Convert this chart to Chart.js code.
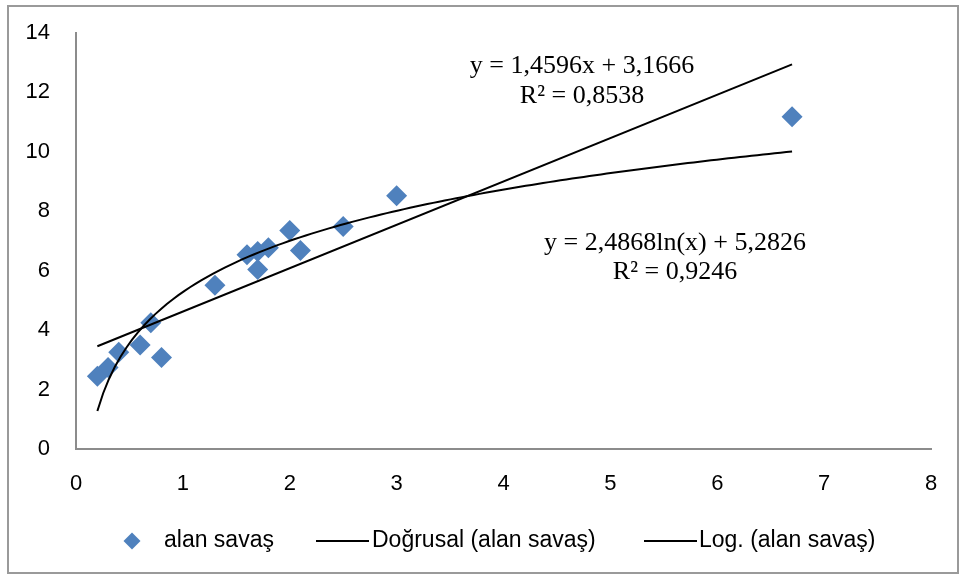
<!DOCTYPE html>
<html>
<head>
<meta charset="utf-8">
<script src="https://cdn.jsdelivr.net/npm/chart.js@4.4.0/dist/chart.umd.min.js"></script>
<style>
  html, body { margin: 0; padding: 0; background: #fff; }
  #wrap { position: relative; width: 960px; height: 581px; }
  #frame { position: absolute; left: 7px; top: 5px; width: 952px; height: 569px;
           border: 2px solid #9a9a9a; box-sizing: border-box; }
  #chart { position: absolute; left: 0; top: 0; }
</style>
</head>
<body>
<div id="wrap">
  <div id="frame"></div>
  <canvas id="chart" width="960" height="581"></canvas>
</div>
<script>
// measured points (alan savaş)
const xValues = [0.2, 0.3, 0.4, 0.6, 0.7, 0.8, 1.3, 1.6, 1.7, 1.7, 1.8, 2.0, 2.1, 2.5, 3.0, 6.7];
const yValues = [2.45, 2.74, 3.26, 3.5, 4.25, 3.08, 5.51, 6.54, 6.65, 6.04, 6.77, 7.35, 6.68, 7.49, 8.52, 11.18];

// trendline equations as printed on the chart
const linSlope = 1.4596, linIntercept = 3.1666;
const logCoef = 2.4868, logIntercept = 5.2826;
const trendFrom = 0.2, trendTo = 6.7;

const xTicks = [0, 1, 2, 3, 4, 5, 6, 7, 8];
const yTicks = [0, 2, 4, 6, 8, 10, 12, 14];

const seriesName = 'alan savaş';
const legendNames = ['alan savaş', 'Doğrusal (alan savaş)', 'Log. (alan savaş)'];
const eqLabels = [
  ['y = 1,4596x + 3,1666', 'R² = 0,8538'],
  ['y = 2,4868ln(x) + 5,2826', 'R² = 0,9246']
];

const points = xValues.map((x, i) => ({ x: x, y: yValues[i] }));
const linLine = [trendFrom, trendTo].map(x => ({ x: x, y: linSlope * x + linIntercept }));
const logLine = [];
for (let i = 0; i <= 120; i++) {
  const x = trendFrom + (trendTo - trendFrom) * i / 120;
  logLine.push({ x: x, y: logCoef * Math.log(x) + logIntercept });
}

const blue = '#4F81BD';
const sansFont = "'Liberation Sans', Arial, sans-serif";
const serifFont = "'Liberation Serif', 'Times New Roman', serif";

// equations + legend drawn on top
const extras = {
  id: 'extras',
  afterDraw(chart) {
    const ctx = chart.ctx;
    ctx.save();
    ctx.fillStyle = '#000';
    ctx.textAlign = 'center';
    ctx.textBaseline = 'middle';
    ctx.font = '26px ' + serifFont;
    ctx.fillText(eqLabels[0][0], 582, 66);
    ctx.fillText(eqLabels[0][1], 582, 96);
    ctx.fillText(eqLabels[1][0], 675, 243);
    ctx.fillText(eqLabels[1][1], 675, 272);

    // legend
    const ly = 541;
    ctx.fillStyle = blue;
    ctx.beginPath();
    ctx.moveTo(132, ly - 8.5);
    ctx.lineTo(140.5, ly);
    ctx.lineTo(132, ly + 8.5);
    ctx.lineTo(123.5, ly);
    ctx.closePath();
    ctx.fill();
    ctx.strokeStyle = '#000';
    ctx.lineWidth = 2;
    ctx.beginPath();
    ctx.moveTo(316, ly); ctx.lineTo(369, ly);
    ctx.moveTo(644, ly); ctx.lineTo(697, ly);
    ctx.stroke();
    ctx.fillStyle = '#000';
    ctx.textAlign = 'left';
    ctx.font = '23px ' + sansFont;
    ctx.fillText(legendNames[0], 164, ly);
    ctx.fillText(legendNames[1], 372, ly);
    ctx.fillText(legendNames[2], 699, ly);
    ctx.restore();
  }
};

new Chart(document.getElementById('chart'), {
  type: 'scatter',
  data: {
    datasets: [
      {
        label: legendNames[1],
        type: 'line',
        data: linLine,
        borderColor: '#000',
        borderWidth: 2,
        pointRadius: 0,
        fill: false,
        order: 0
      },
      {
        label: legendNames[2],
        type: 'line',
        data: logLine,
        borderColor: '#000',
        borderWidth: 2,
        pointRadius: 0,
        tension: 0,
        fill: false,
        order: 1
      },
      {
        label: seriesName,
        data: points,
        pointStyle: 'rectRot',
        pointRadius: 10.5,
        pointBackgroundColor: blue,
        pointBorderColor: blue,
        pointBorderWidth: 0,
        order: 2
      }
    ]
  },
  options: {
    responsive: false,
    animation: false,
    devicePixelRatio: 1,
    layout: { padding: { left: 0, right: 29, top: 33, bottom: 82 } },
    plugins: {
      legend: { display: false },
      tooltip: { enabled: false }
    },
    scales: {
      x: {
        type: 'linear',
        min: 0,
        max: 8,
        afterBuildTicks: s => { s.ticks = xTicks.map(v => ({ value: v })); },
        grid: { display: false, drawTicks: false },
        border: { display: true, color: '#8c8c8c', width: 2 },
        ticks: { color: '#000', padding: 22, font: { family: sansFont, size: 22 } },
        afterFit: s => { s.height = 50; }
      },
      y: {
        min: 0,
        max: 14,
        afterBuildTicks: s => { s.ticks = yTicks.map(v => ({ value: v })); },
        // invisible tick length keeps labels away from the axis without padding the top
        grid: { display: false, drawTicks: true, tickLength: 26 },
        border: { display: true, color: '#8c8c8c', width: 2 },
        ticks: { color: '#000', padding: 0, font: { family: sansFont, size: 22 } },
        afterFit: s => { s.width = 76; }
      }
    }
  },
  plugins: [extras]
});
</script>
</body>
</html>
